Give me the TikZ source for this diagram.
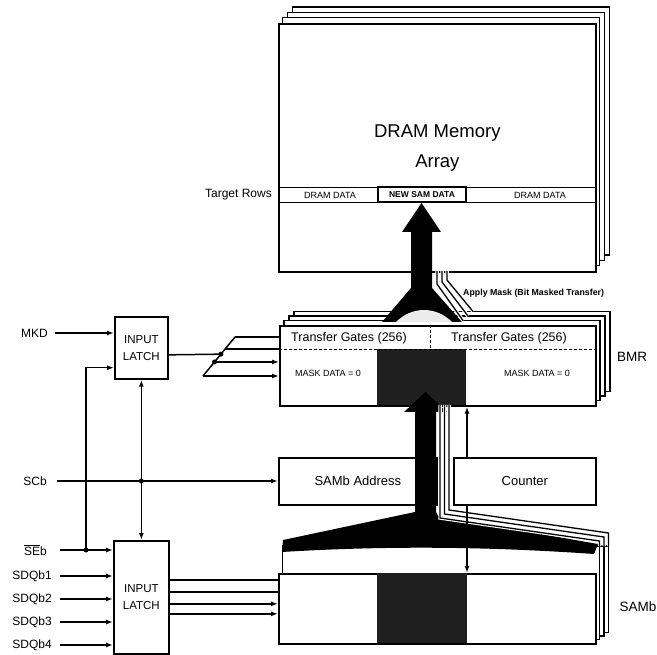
\documentclass[tikz,border=0pt]{standalone}
\usepackage{fontspec}
\setmainfont{Liberation Sans}
\usetikzlibrary{arrows.meta, calc}

\tikzset{
	box/.style = {draw, line width=1.7pt, fill=white, anchor=north west, inner sep=0pt},
	sheet/.style = {draw, line width=1.2pt, fill=white},
	sig/.style = {line width=1.5pt, -{Latex[length=7pt, width=5pt]}},
	bus/.style = {line width=1.5pt},
	wire/.style = {line width=1.3pt, preaction={draw=white, line width=3.5pt}},
	lbl/.style = {inner sep=0pt, anchor=east, font=\fontsize{12}{14}\selectfont},
	small/.style = {inner sep=0pt, font=\fontsize{9}{10}\selectfont},
	junct/.style = {circle, fill, inner sep=0pt, minimum size=5pt},
}

\begin{document}
\begin{tikzpicture}[x=1pt, y=-1pt]
	\useasboundingbox (0,0) rectangle (657,655);

	% DRAM array
	\foreach \k in {3,2,1}
		\draw[sheet] (278+4.7*\k, 23-5.3*\k) rectangle ++(317,248);
	\node[box, minimum width=317pt, minimum height=248pt, align=center,
		font=\fontsize{18.5}{30}\selectfont] (dram) at (278,23) {DRAM Memory\\Array};
	\draw[line width=0.8pt] (278,187) -- (595,187) (278,202) -- (595,202);
	\node[small] (dd1) at (330,195) {DRAM DATA};
	\node[draw, line width=1.4pt, minimum width=88pt, minimum height=15pt, inner sep=0pt,
		font=\bfseries\fontsize{8.5}{10}\selectfont] (nsd) at (422,194.5) {NEW SAM DATA};
	\node[small] (dd2) at (540,195) {DRAM DATA};
	\node[lbl] (trows) at (272,195) {Target Rows};

	% BMR
	\foreach \k in {3,2,1}
		\draw[sheet] (279+5*\k, 325-4.5*\k) rectangle ++(316,80);
	\node[box, minimum width=316pt, minimum height=80pt] (bmr) at (279,325) {};
	\fill[black!88] (377,349) rectangle (466,405);
	\draw[line width=0.8pt, dash pattern=on 3pt off 2pt] (279,349) -- (595,349) (430,325) -- (430,349);
	\node[inner sep=0pt, font=\fontsize{12.5}{14}\selectfont] (tg1) at (349,338) {Transfer Gates (256)};
	\node[inner sep=0pt, font=\fontsize{12.5}{14}\selectfont] (tg2) at (509,338) {Transfer Gates (256)};
	\node[small] (md1) at (328,373) {MASK DATA = 0};
	\node[small] (md2) at (537,373) {MASK DATA = 0};
	\node[font=\fontsize{13.5}{15}\selectfont] (bmrlbl) at (632,357) {BMR};

	% address counter
	\node[box, minimum width=158pt, minimum height=47pt, font=\fontsize{13}{15}\selectfont] (addr) at (278,457) {SAMb Address};
	\node[box, minimum width=142pt, minimum height=47pt, font=\fontsize{13}{15}\selectfont] (cnt) at (453,457) {Counter};

	% SAMb
	\foreach \k in {3,2,1}
		\draw[sheet] (278+4.5*\k, 546) rectangle (595+4.5*\k, 643-3.5*\k);
	\node[box, minimum width=317pt, minimum height=70pt] (sam) at (278,573) {};
	\fill[black!88] (377,573) rectangle (467,643);
	\node[font=\fontsize{13.5}{15}\selectfont] (samlbl) at (638,607) {SAMb};

	% latches
	\node[box, minimum width=53pt, minimum height=62pt, align=center,
		font=\fontsize{11.5}{17}\selectfont] (latchA) at (114,316) {INPUT\\LATCH};
	\node[box, minimum width=55pt, minimum height=113pt, align=center,
		font=\fontsize{11.5}{17}\selectfont] (latchB) at (113,540) {INPUT\\LATCH};

	% transfer to DRAM
	\fill (411,292) -- (411,232) -- (402,232) -- (421.5,203) -- (441,232) -- (432,232) -- (432,292) -- cycle;
	\fill (411,288) -- (382,322) -- (462,322) -- (432,288) -- cycle;
	\fill[gray!15] (396,322) .. controls (412,306) and (436,306) .. (452,322) -- cycle;
	\foreach \i in {0,1,2}
		\draw[wire] (437+5*\i, 271) -- (437+5*\i, 284-2*\i) -- (463+5*\i, 320.5-4.5*\i);
	\node[inner sep=0pt, anchor=west, font=\bfseries\fontsize{8.8}{10}\selectfont] (mask) at (463,293) {Apply Mask (Bit Masked Transfer)};

	% transfer from SAMb
	\fill (415,514) -- (415,412) -- (404,412) -- (425.5,392) -- (447,412) -- (436,412) -- (436,514) -- cycle;
	\fill (415,512) -- (283,540) -- (282,552) .. controls (380,546) and (480,546) .. (594,554)
		-- (598,544) -- (438,516) -- (436,512) -- cycle;
	\foreach \i in {0,1,2}
		\draw[wire] (440+4.5*\i, 405) -- (440+4.5*\i, 518-4*\i) -- (599.5+4.5*\i, 541-4*\i) -- (599.5+4.5*\i, 546);

	\coordinate (tap) at (467,0);
	\draw[sig] (tap |- cnt.north) -- (tap |- bmr.south);
	\draw[sig] (tap |- cnt.south) -- (tap |- sam.north);

	% inputs
	\node[lbl] (mkd) at (48,333) {MKD};
	\node[lbl] (scb) at (47,481) {SCb};
	\node[lbl] (seb) at (47,550) {$\overline{\mbox{SE}}$b};
	\foreach \n/\y in {1/576, 2/599, 3/622, 4/645}
		\node[lbl] (sdq\n) at (52,\y) {SDQb\n};

	\draw[sig, shorten <=7pt] (mkd.east) -- (mkd.east -| latchA.west);
	\draw[sig, shorten <=13pt] (seb.east) -- (seb.east -| latchB.west);
	\foreach \n in {1,...,4}
		\draw[sig, shorten <=8pt] (sdq\n.east) -- (sdq\n.east -| latchB.west);

	\coordinate (jse) at (seb.east -| 86,0);
	\draw[sig] (jse) |- ([yshift=12pt]latchA.south west);
	\node[junct] at (jse) {};

	\draw[sig, shorten <=10pt] (scb.east) -- (scb.east -| addr.west);
	\coordinate (jsc) at (scb.east -| latchA.south);
	\draw[sig] (jsc) -- (latchA.south);
	\draw[sig] (jsc) -- (jsc |- latchB.north);
	\node[junct] at (jsc) {};

	% mask bus
	\coordinate (busA1) at (235,337);
	\coordinate (busA4) at (203,376);
	\foreach \t [count=\i] in {1,0.69,0.36,0}
		\coordinate (ba\i) at ($(busA4)!\t!(busA1)$);
	\coordinate (busAin) at ($(busA4)!0.56!(busA1)$);
	\draw[bus] (busA4) -- (busA1);
	\draw[bus] ([yshift=-7pt]latchA.east) -- (busAin);
	\draw[bus] (ba1) -- (ba1 -| bmr.west);
	\draw[bus] (ba2) -- (ba2 -| bmr.west);
	\draw[sig] (ba3) -- (ba3 -| bmr.west);
	\draw[sig] (ba4) -- (ba4 -| bmr.west);
	\node[junct] at (busAin) {};
	\node[junct] at (ba3) {};

	% data bus
	\foreach \d/\tip in {17.5/bus, 5.5/bus, -6.5/sig, -16.5/sig}
		\draw[\tip] ([yshift=\d pt]latchB.east) -- ([yshift=\d pt]latchB.east -| sam.west);
\end{tikzpicture}
\end{document}
